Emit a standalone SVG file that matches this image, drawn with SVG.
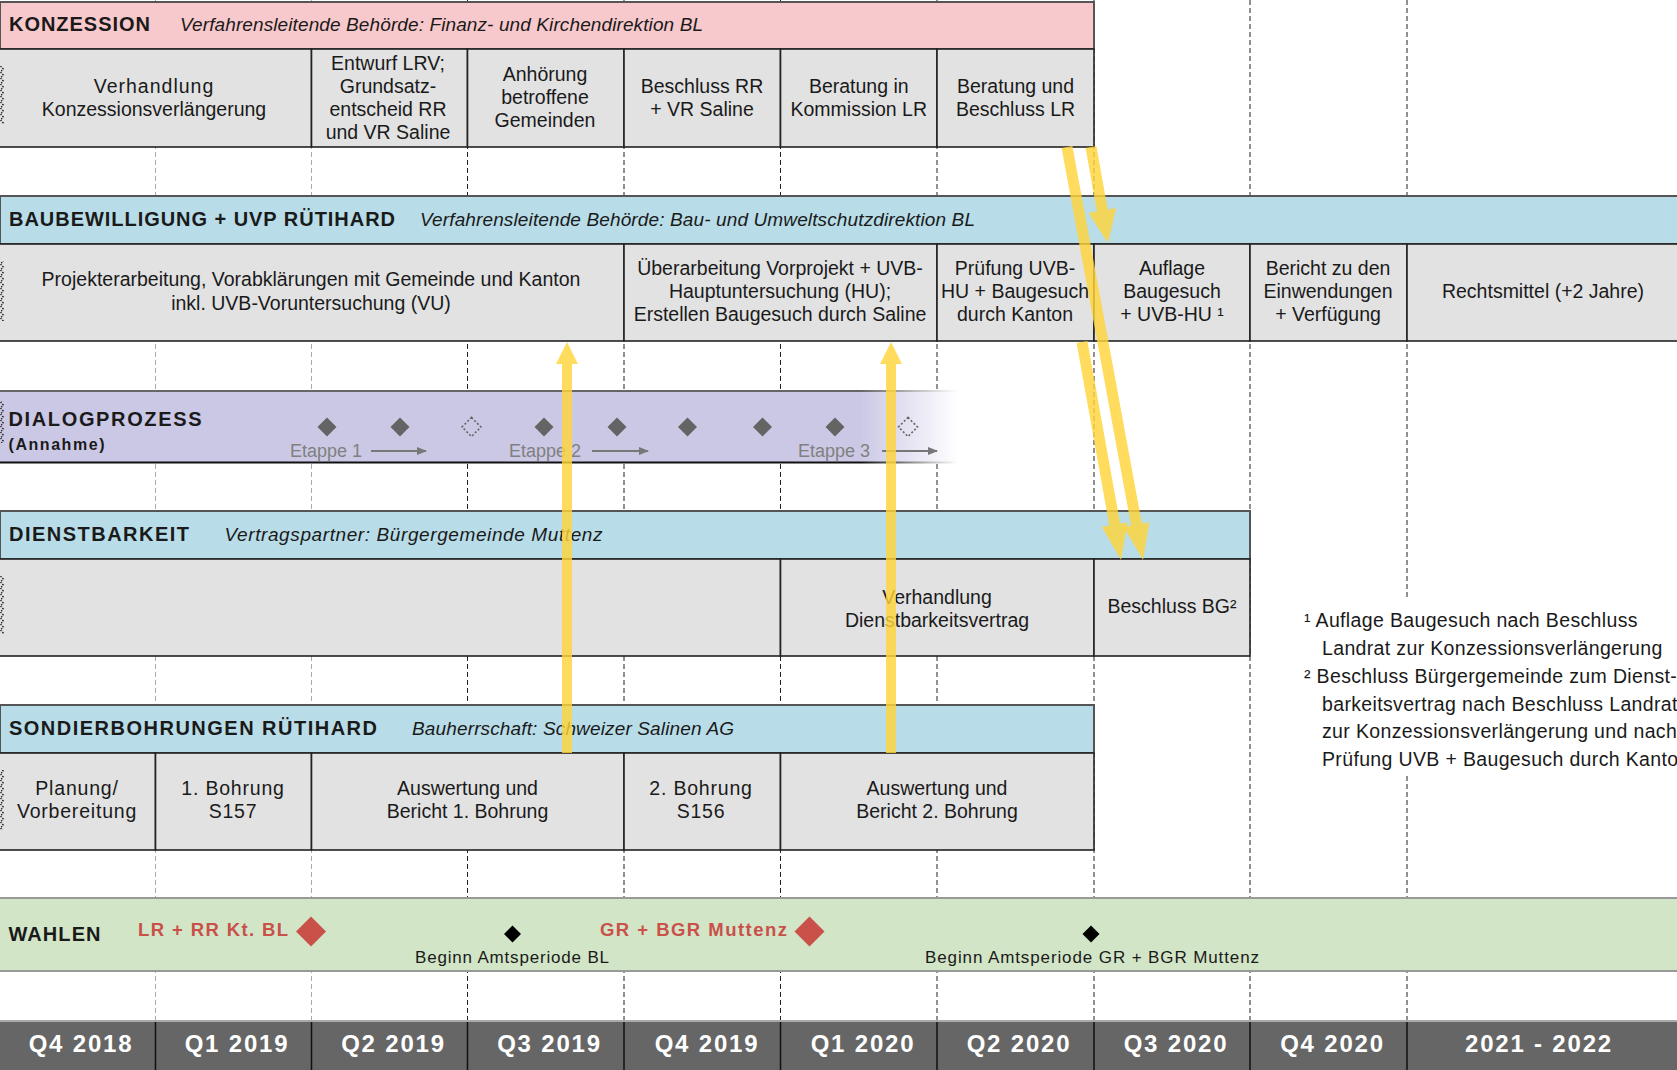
<svg xmlns="http://www.w3.org/2000/svg" width="1677" height="1070" viewBox="0 0 1677 1070">
<defs>
<style>
text{font-family:"Liberation Sans",Arial,sans-serif;fill:#1a1a1a}
.c{font-size:19.5px;text-anchor:middle}
.h{font-size:20px;font-weight:bold}
.i{font-size:19px;font-style:italic}
.cell{fill:#E2E2E2;stroke:#222;stroke-width:1.6}
.hdrP{fill:#F8C9CC;stroke:#555;stroke-width:2}
.hdrB{fill:#B8DDE8;stroke:#555;stroke-width:2}
.gd{stroke:#222;stroke-width:1;stroke-dasharray:5 3}
.gl{stroke:#aaa;stroke-width:1;stroke-dasharray:5 3}
.ya{fill:#FFD43B;opacity:.82}
.dm{fill:#646464}
.dd{fill:none;stroke:#646464;stroke-width:1.6;stroke-dasharray:2 2}
.et{font-size:18px;fill:#808080}
.ea{stroke:#777;stroke-width:2;marker-end:url(#ah)}
.ax{font-size:24px;font-weight:bold;fill:#fff;text-anchor:middle;letter-spacing:1.8px}
.red{font-size:18.5px;font-weight:bold;fill:#C9514A}
.fn{font-size:19.5px;letter-spacing:0.35px}
.sep{stroke:#111;stroke-width:1.5}
</style>
<pattern id="zz" patternUnits="userSpaceOnUse" width="5" height="6">
<path d="M0.5,0 L3.2,3 L0.5,6" fill="none" stroke="#222" stroke-width="1.4" stroke-dasharray="1.4 1.4"/>
</pattern>
<linearGradient id="fadeF" gradientUnits="userSpaceOnUse" x1="860" y1="0" x2="958" y2="0">
<stop offset="0" stop-color="#CBC8E5"/><stop offset="1" stop-color="#fff"/>
</linearGradient>
<linearGradient id="fadeT" gradientUnits="userSpaceOnUse" x1="860" y1="0" x2="958" y2="0">
<stop offset="0" stop-color="#666"/><stop offset="1" stop-color="#fff"/>
</linearGradient>
<linearGradient id="fadeB" gradientUnits="userSpaceOnUse" x1="860" y1="0" x2="958" y2="0">
<stop offset="0" stop-color="#111"/><stop offset="1" stop-color="#fff"/>
</linearGradient>
<marker id="ah" markerUnits="userSpaceOnUse" markerWidth="10" markerHeight="8" refX="9" refY="4" orient="auto">
<path d="M0,0 L10,4 L0,8 z" fill="#777"/>
</marker>
</defs>

<rect x="0" y="0" width="1677" height="1070" fill="#fff"/>

<g id="grid">
<line class="gl" x1="155.5" y1="0" x2="155.5" y2="1021"/>
<line class="gl" x1="311.5" y1="0" x2="311.5" y2="1021"/>
<line class="gd" x1="467.5" y1="0" x2="467.5" y2="1021"/>
<line class="gd" x1="624" y1="0" x2="624" y2="1021"/>
<line class="gd" x1="780.5" y1="0" x2="780.5" y2="1021"/>
<line class="gd" x1="937" y1="0" x2="937" y2="1021"/>
<line class="gd" x1="1094" y1="0" x2="1094" y2="1021"/>
<line class="gd" x1="1250" y1="0" x2="1250" y2="1021"/>
<line class="gd" x1="1407" y1="0" x2="1407" y2="1021"/>
</g>

<g id="konzession">
<rect class="hdrP" x="0" y="2" width="1094" height="47"/>
<text class="h" x="9" y="31" textLength="141" lengthAdjust="spacing">KONZESSION</text>
<text class="i" x="180" y="31" textLength="523" lengthAdjust="spacing">Verfahrensleitende Behörde: Finanz- und Kirchendirektion BL</text>
<g id="k1"><rect class="cell" x="-2" y="49" width="313.5" height="98"/>
<text class="c" x="154" y="92.5" letter-spacing="1">Verhandlung</text><text class="c" x="154" y="115.5">Konzessionsverlängerung</text></g>
<g id="k2"><rect class="cell" x="311.5" y="49" width="156" height="98"/>
<text class="c" x="388" y="69.5">Entwurf LRV;</text><text class="c" x="388" y="92.5">Grundsatz-</text><text class="c" x="388" y="115.5">entscheid RR</text><text class="c" x="388" y="138.5">und VR Saline</text></g>
<g id="k3"><rect class="cell" x="467.5" y="49" width="156.5" height="98"/>
<text class="c" x="545" y="81">Anhörung</text><text class="c" x="545" y="104">betroffene</text><text class="c" x="545" y="127">Gemeinden</text></g>
<g id="k4"><rect class="cell" x="624" y="49" width="156.5" height="98"/>
<text class="c" x="702" y="92.5">Beschluss RR</text><text class="c" x="702" y="115.5">+ VR Saline</text></g>
<g id="k5"><rect class="cell" x="780.5" y="49" width="156.5" height="98"/>
<text class="c" x="858.75" y="92.5">Beratung in</text><text class="c" x="858.75" y="115.5">Kommission LR</text></g>
<g id="k6"><rect class="cell" x="937" y="49" width="157" height="98"/>
<text class="c" x="1015.5" y="92.5">Beratung und</text><text class="c" x="1015.5" y="115.5">Beschluss LR</text></g>
<rect x="0" y="66" width="5" height="58" fill="url(#zz)"/>
</g>

<g id="baubewilligung">
<rect class="hdrB" x="0" y="196" width="1680" height="48"/>
<text class="h" x="9" y="225.5" textLength="386" lengthAdjust="spacing">BAUBEWILLIGUNG + UVP RÜTIHARD</text>
<text class="i" x="420" y="225.5" textLength="555" lengthAdjust="spacing">Verfahrensleitende Behörde: Bau- und Umweltschutzdirektion BL</text>
<g id="b1"><rect class="cell" x="-2" y="244" width="626" height="97"/>
<text class="c" x="311" y="286">Projekterarbeitung, Vorabklärungen mit Gemeinde und Kanton</text><text class="c" x="311" y="309.5">inkl. UVB-Voruntersuchung (VU)</text></g>
<g id="b2"><rect class="cell" x="624" y="244" width="313" height="97"/>
<text class="c" x="780" y="275">Überarbeitung Vorprojekt + UVB-</text><text class="c" x="780" y="298">Hauptuntersuchung (HU);</text><text class="c" x="780" y="321">Erstellen Baugesuch durch Saline</text></g>
<g id="b3"><rect class="cell" x="937" y="244" width="157" height="97"/>
<text class="c" x="1015" y="275">Prüfung UVB-</text><text class="c" x="1015" y="298">HU + Baugesuch</text><text class="c" x="1015" y="321">durch Kanton</text></g>
<g id="b4"><rect class="cell" x="1094" y="244" width="156" height="97"/>
<text class="c" x="1172" y="275">Auflage</text><text class="c" x="1172" y="298">Baugesuch</text><text class="c" x="1172" y="321">+ UVB-HU ¹</text></g>
<g id="b5"><rect class="cell" x="1250" y="244" width="157" height="97"/>
<text class="c" x="1328" y="275">Bericht zu den</text><text class="c" x="1328" y="298">Einwendungen</text><text class="c" x="1328" y="321">+ Verfügung</text></g>
<g id="b6"><rect class="cell" x="1407" y="244" width="273" height="97"/>
<text class="c" x="1543" y="298">Rechtsmittel (+2 Jahre)</text></g>
<rect x="0" y="261" width="5" height="60" fill="url(#zz)"/>
</g>

<g id="dialogprozess">
<rect x="0" y="390" width="958" height="73" fill="url(#fadeF)"/>
<line x1="0" y1="391" x2="958" y2="391" stroke="url(#fadeT)" stroke-width="2"/>
<line x1="0" y1="462.5" x2="958" y2="462.5" stroke="url(#fadeB)" stroke-width="2"/>
<rect x="0" y="401" width="5" height="42" fill="url(#zz)"/>
<text class="h" x="8.5" y="426" textLength="193" lengthAdjust="spacing">DIALOGPROZESS</text>
<text x="8.5" y="450" font-size="16" font-weight="bold" textLength="96" lengthAdjust="spacing">(Annahme)</text>
<path class="dm" d="M327,417.5 L336.5,427 L327,436.5 L317.5,427 Z"/>
<path class="dm" d="M400,417.5 L409.5,427 L400,436.5 L390.5,427 Z"/>
<path class="dd" d="M471.5,417.5 L481,427 L471.5,436.5 L462,427 Z"/>
<path class="dm" d="M544,417.5 L553.5,427 L544,436.5 L534.5,427 Z"/>
<path class="dm" d="M617,417.5 L626.5,427 L617,436.5 L607.5,427 Z"/>
<path class="dm" d="M687.5,417.5 L697,427 L687.5,436.5 L678,427 Z"/>
<path class="dm" d="M762.5,417.5 L772,427 L762.5,436.5 L753,427 Z"/>
<path class="dm" d="M835,417.5 L844.5,427 L835,436.5 L825.5,427 Z"/>
<path class="dd" d="M908,417.5 L917.5,427 L908,436.5 L898.5,427 Z"/>
<text class="et" x="290" y="456.5">Etappe 1</text>
<line class="ea" x1="371" y1="451" x2="426" y2="451"/>
<text class="et" x="509" y="456.5">Etappe 2</text>
<line class="ea" x1="592" y1="451" x2="648" y2="451"/>
<text class="et" x="798" y="456.5">Etappe 3</text>
<line class="ea" x1="882" y1="451" x2="937" y2="451"/>
</g>

<g id="dienstbarkeit">
<rect class="hdrB" x="0" y="511" width="1250" height="48"/>
<text class="h" x="9" y="541" textLength="180" lengthAdjust="spacing">DIENSTBARKEIT</text>
<text class="i" x="224.5" y="541" textLength="378" lengthAdjust="spacing">Vertragspartner: Bürgergemeinde Muttenz</text>
<g id="d1"><rect class="cell" x="-2" y="559" width="782.5" height="97"/></g>
<g id="d2"><rect class="cell" x="780.5" y="559" width="313.5" height="97"/>
<text class="c" x="937" y="604">Verhandlung</text><text class="c" x="937" y="627">Dienstbarkeitsvertrag</text></g>
<g id="d3"><rect class="cell" x="1094" y="559" width="156" height="97"/>
<text class="c" x="1172" y="613">Beschluss BG²</text></g>
<rect x="0" y="576" width="5" height="58" fill="url(#zz)"/>
</g>

<g id="sondierbohrungen">
<rect class="hdrB" x="0" y="705" width="1094" height="48"/>
<text class="h" x="9" y="734.5" textLength="368" lengthAdjust="spacing">SONDIERBOHRUNGEN RÜTIHARD</text>
<text class="i" x="412" y="734.5" textLength="322" lengthAdjust="spacing">Bauherrschaft: Schweizer Salinen AG</text>
<g id="s1"><rect class="cell" x="-2" y="753" width="157.5" height="97"/>
<text class="c" x="77" y="795" letter-spacing="0.8">Planung/</text><text class="c" x="77" y="818" letter-spacing="0.8">Vorbereitung</text></g>
<g id="s2"><rect class="cell" x="155.5" y="753" width="156" height="97"/>
<text class="c" x="233" y="795" letter-spacing="0.8">1. Bohrung</text><text class="c" x="233" y="818" letter-spacing="0.8">S157</text></g>
<g id="s3"><rect class="cell" x="311.5" y="753" width="312.5" height="97"/>
<text class="c" x="467.5" y="795">Auswertung und</text><text class="c" x="467.5" y="818">Bericht 1. Bohrung</text></g>
<g id="s4"><rect class="cell" x="624" y="753" width="156.5" height="97"/>
<text class="c" x="701" y="795" letter-spacing="0.8">2. Bohrung</text><text class="c" x="701" y="818" letter-spacing="0.8">S156</text></g>
<g id="s5"><rect class="cell" x="780.5" y="753" width="313.5" height="97"/>
<text class="c" x="937" y="795">Auswertung und</text><text class="c" x="937" y="818">Bericht 2. Bohrung</text></g>
<rect x="0" y="770" width="5" height="60" fill="url(#zz)"/>
</g>

<g id="wahlen">
<rect x="-2" y="898" width="1681" height="73" fill="#D2E5C7" stroke="#999" stroke-width="2"/>
<text class="h" x="8.5" y="941" textLength="92" lengthAdjust="spacing">WAHLEN</text>
<text class="red" x="138" y="936" textLength="150" lengthAdjust="spacing">LR + RR Kt. BL</text>
<path d="M311,916.5 L326,931.5 L311,946.5 L296,931.5 Z" fill="#C9514A"/>
<path d="M512.5,925.5 L521,934 L512.5,942.5 L504,934 Z" fill="#000"/>
<text x="512" y="962.5" font-size="17" text-anchor="middle" textLength="194" lengthAdjust="spacing">Beginn Amtsperiode BL</text>
<text class="red" x="600" y="936" textLength="187" lengthAdjust="spacing">GR + BGR Muttenz</text>
<path d="M809.5,916.5 L824.5,931.5 L809.5,946.5 L794.5,931.5 Z" fill="#C9514A"/>
<path d="M1091,925.5 L1099.5,934 L1091,942.5 L1082.5,934 Z" fill="#000"/>
<text x="1092" y="962.5" font-size="17" text-anchor="middle" textLength="334" lengthAdjust="spacing">Beginn Amtsperiode GR + BGR Muttenz</text>
</g>

<g id="axis">
<rect x="0" y="1021" width="1677" height="49" fill="#666"/>
<line x1="0" y1="1021" x2="1677" y2="1021" stroke="#aaa" stroke-width="2"/>
<line class="sep" x1="155.5" y1="1022" x2="155.5" y2="1070"/>
<line class="sep" x1="311.5" y1="1022" x2="311.5" y2="1070"/>
<line class="sep" x1="467.5" y1="1022" x2="467.5" y2="1070"/>
<line class="sep" x1="624" y1="1022" x2="624" y2="1070"/>
<line class="sep" x1="780.5" y1="1022" x2="780.5" y2="1070"/>
<line class="sep" x1="937" y1="1022" x2="937" y2="1070"/>
<line class="sep" x1="1094" y1="1022" x2="1094" y2="1070"/>
<line class="sep" x1="1250" y1="1022" x2="1250" y2="1070"/>
<line class="sep" x1="1407" y1="1022" x2="1407" y2="1070"/>
<text class="ax" x="81" y="1052">Q4 2018</text>
<text class="ax" x="237" y="1052">Q1 2019</text>
<text class="ax" x="393.5" y="1052">Q2 2019</text>
<text class="ax" x="549.5" y="1052">Q3 2019</text>
<text class="ax" x="707" y="1052">Q4 2019</text>
<text class="ax" x="863" y="1052">Q1 2020</text>
<text class="ax" x="1019" y="1052">Q2 2020</text>
<text class="ax" x="1176" y="1052">Q3 2020</text>
<text class="ax" x="1332.5" y="1052">Q4 2020</text>
<text class="ax" x="1539" y="1052">2021 - 2022</text>
</g>

<g id="footnotes">
<rect x="1296" y="600" width="381" height="173" fill="#fff"/>
<text class="fn" x="1304" y="627">¹ Auflage Baugesuch nach Beschluss</text>
<text class="fn" x="1322" y="655">Landrat zur Konzessionsverlängerung</text>
<text class="fn" x="1304" y="682.5">² Beschluss Bürgergemeinde zum Dienst-</text>
<text class="fn" x="1322" y="710.5">barkeitsvertrag nach Beschluss Landrat</text>
<text class="fn" x="1322" y="738">zur Konzessionsverlängerung und nach</text>
<text class="fn" x="1322" y="766">Prüfung UVB + Baugesuch durch Kanton</text>
</g>

<g id="connectors">
<polygon class="ya" points="562,753 562,364 556,364 567,342 578,364 572,364 572,753"/>
<polygon class="ya" points="886,753 886,364 880,364 891,342 902,364 896,364 896,753"/>
<polygon class="ya" points="1072.4,146 1141.9,523.6 1149.3,522.2 1143,560 1123.7,526.9 1131.1,525.6 1061.6,148"/>
<polygon class="ya" points="1096.4,146 1107.7,209.5 1116,208.1 1108,243 1088.5,212.9 1096.8,211.5 1085.6,148"/>
<polygon class="ya" points="1087.4,341 1120.1,523.6 1127.5,522.3 1121,560 1101.9,526.9 1109.3,525.5 1076.6,343"/>
</g>
</svg>
